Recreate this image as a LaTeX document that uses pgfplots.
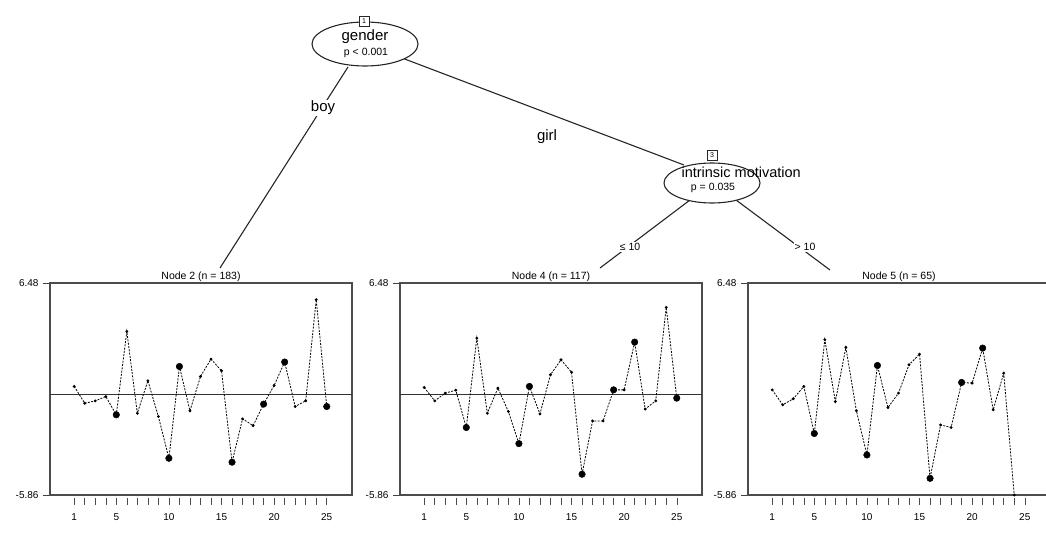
\documentclass[border=0pt]{standalone}
\usepackage{pgfplots}
\pgfplotsset{compat=1.18}
\usepackage{fontspec}
\setmainfont{Liberation Sans}

\pgfplotsset{
  panel/.style={
    scale only axis, width=302pt, height=212pt,
    xmin=-1.3, xmax=27.4, ymin=-5.86, ymax=6.48,
    anchor=south west,
    axis line style={line width=1.4pt, black!70},
    xtick={1,...,25},
    xticklabels={1,,,,5,,,,,10,,,,,15,,,,,20,,,,,25},
    ytick={-5.86,6.48}, yticklabels={-5.86,6.48},
    tick align=outside, xtick pos=bottom, ytick pos=left,
    major tick length=7pt,
    xtick style={yshift=-3pt, line width=0.5pt, black!70},
    ytick style={line width=1pt, black!75},
    tick label style={font=\fontsize{10}{11}\selectfont},
    xticklabel style={yshift=-8pt},
    yticklabel style={xshift=-1pt},
    /pgf/number format/assume math mode=true,
    clip=false,
  },
  series/.style={black, line width=0.8pt, dash pattern=on 2pt off 1.3pt, mark=*, mark size=1pt, mark options={solid}},
  big/.style={only marks, black, mark=*, mark size=3.3pt},
  zero/.style={black!80, line width=1.1pt, mark=none},
}

\begin{document}
\begin{tikzpicture}
\useasboundingbox (0,0) rectangle (1046pt,539pt);
\clip (0,0) rectangle (1046pt,539pt);

% ---------- Panel 1 ----------
\begin{axis}[panel, at={(50pt,44pt)}]
\addplot[zero] coordinates {(-1.3,0) (27.4,0)};
\addplot[series] coordinates {
(1,0.46) (2,-0.52) (3,-0.38) (4,-0.13) (5,-1.19) (6,3.66) (7,-1.10) (8,0.79)
(9,-1.29) (10,-3.72) (11,1.62) (12,-0.96) (13,1.04) (14,2.05) (15,1.37)
(16,-3.95) (17,-1.43) (18,-1.82) (19,-0.57) (20,0.52) (21,1.88) (22,-0.71)
(23,-0.38) (24,5.51) (25,-0.71)};
\addplot[big] coordinates {(5,-1.19) (10,-3.72) (11,1.62) (16,-3.95) (19,-0.57) (21,1.88) (25,-0.71)};
\node[anchor=south, inner sep=1pt, font=\fontsize{10.5}{11}\selectfont] at (rel axis cs:0.5,1) {Node 2 (n = 183)};
\end{axis}

% ---------- Panel 2 ----------
\begin{axis}[panel, at={(400pt,44pt)}]
\addplot[zero] coordinates {(-1.3,0) (27.4,0)};
\addplot[series] coordinates {
(1,0.40) (2,-0.38) (3,0.07) (4,0.24) (5,-1.93) (6,3.27) (7,-1.10) (8,0.36)
(9,-1.00) (10,-2.87) (11,0.46) (12,-1.14) (13,1.14) (14,2.01) (15,1.29)
(16,-4.65) (17,-1.55) (18,-1.55) (19,0.26) (20,0.26) (21,3.04) (22,-0.86)
(23,-0.38) (24,5.06) (25,-0.22)};
\addplot[big] coordinates {(5,-1.93) (10,-2.87) (11,0.46) (16,-4.65) (19,0.26) (21,3.04) (25,-0.22)};
\node[anchor=south, inner sep=1pt, font=\fontsize{10.5}{11}\selectfont] at (rel axis cs:0.5,1) {Node 4 (n = 117)};
\end{axis}

% ---------- Panel 3 ----------
\begin{axis}[panel, at={(748pt,44pt)}]
\addplot[series] coordinates {
(1,0.26) (2,-0.61) (3,-0.26) (4,0.46) (5,-2.28) (6,3.18) (7,-0.42) (8,2.73)
(9,-0.96) (10,-3.53) (11,1.68) (12,-0.77) (13,0.07) (14,1.72) (15,2.34)
(16,-4.89) (17,-1.78) (18,-1.93) (19,0.69) (20,0.65) (21,2.69) (22,-0.90)
(23,1.23) (24,-5.86)};
\addplot[big] coordinates {(5,-2.28) (10,-3.53) (11,1.68) (16,-4.89) (19,0.69) (21,2.69)};
\node[anchor=south, inner sep=1pt, font=\fontsize{10.5}{11}\selectfont] at (rel axis cs:0.5,1) {Node 5 (n = 65)};
\end{axis}

% ---------- Tree (image pixel coordinates, y downward) ----------
\begin{scope}[shift={(0pt,539pt)}, x=1pt, y=-1pt, line width=1.1pt, black!85]
  % edges
  \draw (348,67) -- (220,268);
  \draw (402,58) -- (684,165);
  \draw (690,200) -- (600,268);
  \draw (736,200) -- (830,270);
  % edge labels
  \node[fill=white, inner sep=1.5pt, text=black, font=\fontsize{15}{16}\selectfont] at (323,108) {boy};
  \node[fill=white, inner sep=1.5pt, text=black, font=\fontsize{15}{16}\selectfont] at (547,137) {girl};
  \node[fill=white, inner sep=1pt, text=black, font=\fontsize{10.5}{11}\selectfont] at (630,247) {≤ 10};
  \node[fill=white, inner sep=1pt, text=black, font=\fontsize{10.5}{11}\selectfont] at (805,247) {> 10};
  % node 1
  \draw[fill=white] (365,44) ellipse [x radius=53pt, y radius=22pt];
  \node[draw, fill=white, line width=0.8pt, minimum size=10pt, inner sep=0pt, text=black, font=\fontsize{7}{7}\selectfont] at (364,21) {1};
  \node[text=black, font=\fontsize{15}{16}\selectfont] at (365,37) {gender};
  \node[text=black, font=\fontsize{10.5}{11}\selectfont] at (366,53) {p < 0.001};
  % node 3
  \draw[fill=white] (712,183) ellipse [x radius=48pt, y radius=20pt];
  \node[draw, fill=white, line width=0.8pt, minimum size=10pt, inner sep=0pt, text=black, font=\fontsize{7}{7}\selectfont] at (712,155) {3};
  \node[text=black, anchor=west, inner sep=0pt, font=\fontsize{14.5}{15}\selectfont] at (681,172) {intrinsic motivation};
  \node[text=black, font=\fontsize{10.5}{11}\selectfont] at (713,188) {p = 0.035};
\end{scope}
\end{tikzpicture}
\end{document}
